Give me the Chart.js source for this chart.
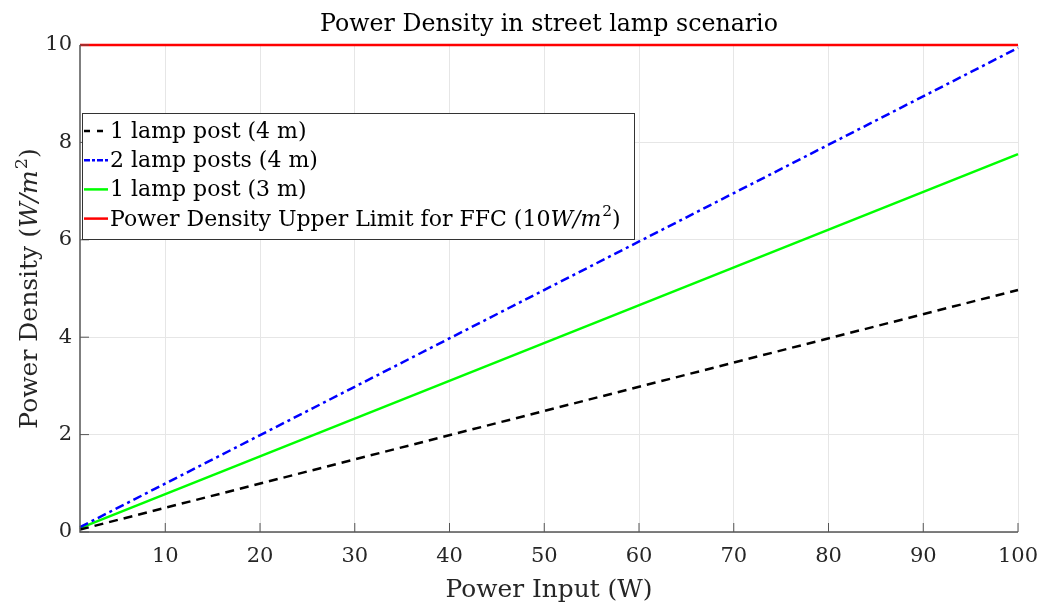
<!DOCTYPE html>
<html>
<head>
<meta charset="utf-8">
<script src="https://cdn.jsdelivr.net/npm/chart.js@4.4.1/dist/chart.umd.min.js"></script>
<style>
  html, body { margin: 0; padding: 0; background: #fff; }
  #wrap { width: 1041px; height: 605px; }
</style>
</head>
<body>
<div id="wrap"><canvas id="myChart" width="1041" height="605"></canvas></div>
<script>
// ---------- DATA ----------
const xValues     = [1, 100];
const onePost4m   = [0.05, 4.97];
const twoPosts4m  = [0.1, 9.94];
const onePost3m   = [0.078, 7.76];
const upperLimit  = [10, 10];
const xTicks      = [10, 20, 30, 40, 50, 60, 70, 80, 90, 100];
const yTicks      = [0, 2, 4, 6, 8, 10];

const FONT = "'DejaVu Serif', 'Liberation Serif', serif";
const INK  = '#262626';

const pts = arr => xValues.map((x, i) => ({ x, y: arr[i] }));

// texto "rico": [{t, i (itálico), sup}]
function richWidth(ctx, parts, size) {
  let w = 0;
  parts.forEach(p => {
    const s = p.sup ? size * 0.7 : size;
    ctx.font = `${p.i ? 'italic ' : ''}${s}px ${FONT}`;
    w += ctx.measureText(p.t).width + (p.i ? 1 : 0);
  });
  return w;
}
// tamanho de fonte que dá a largura vista na figura
const fitSize = (ctx, parts, width, max) => Math.min(max, 20 * width / richWidth(ctx, parts, 20));

function drawRich(ctx, parts, x, y, size, align) {
  const w = richWidth(ctx, parts, size);
  let cx = align === 'center' ? x - w / 2 : x;
  ctx.textBaseline = 'alphabetic';
  ctx.textAlign = 'left';
  parts.forEach(p => {
    const s = p.sup ? size * 0.7 : size;
    ctx.font = `${p.i ? 'italic ' : ''}${s}px ${FONT}`;
    ctx.fillText(p.t, cx, p.sup ? y - size * 0.42 : y);
    cx += ctx.measureText(p.t).width + (p.i ? 1 : 0);
  });
}

const titleParts  = [{ t: 'Power Density in street lamp scenario' }];
const xLabelParts = [{ t: 'Power Input (W)' }];
const yLabelParts = [{ t: 'Power Density (' }, { t: 'W/m', i: true }, { t: '2', sup: true }, { t: ')' }];

const datasets = [
  { label: '1 lamp post (4 m)', data: pts(onePost4m), borderColor: '#000000', borderDash: [9, 6], legendParts: [{ t: '1 lamp post (4 m)' }] },
  { label: '2 lamp posts (4 m)', data: pts(twoPosts4m), borderColor: '#0000ff', borderDash: [9, 4, 3, 4], legendParts: [{ t: '2 lamp posts (4 m)' }] },
  { label: '1 lamp post (3 m)', data: pts(onePost3m), borderColor: '#00ff00', borderDash: [], legendParts: [{ t: '1 lamp post (3 m)' }] },
  { label: 'Power Density Upper Limit for FFC (10W/m2)', data: pts(upperLimit), borderColor: '#ff0000', borderDash: [],
    legendParts: [{ t: 'Power Density Upper Limit for FFC (10' }, { t: 'W/m', i: true }, { t: '2', sup: true }, { t: ')' }] }
].map(d => Object.assign(d, { borderWidth: 2.5, pointRadius: 0, fill: false, tension: 0, clip: 4 }));

// ---------- Plugin: eixos, ticks internos, títulos, legenda ----------
const decor = {
  id: 'decor',
  afterDatasetsDraw(chart) {
    const { ctx, chartArea: a, scales } = chart;
    ctx.save();
    // eixos
    ctx.strokeStyle = '#555555';
    ctx.lineWidth = 1.5;
    ctx.beginPath();
    ctx.moveTo(a.left, a.top); ctx.lineTo(a.left, a.bottom); ctx.lineTo(a.right, a.bottom);
    ctx.stroke();
    // ticks internos
    ctx.lineWidth = 1;
    ctx.beginPath();
    xTicks.forEach(v => { const px = scales.x.getPixelForValue(v); ctx.moveTo(px, a.bottom); ctx.lineTo(px, a.bottom - 9); });
    yTicks.forEach(v => { const py = scales.y.getPixelForValue(v); ctx.moveTo(a.left, py); ctx.lineTo(a.left + 9, py); });
    ctx.stroke();

    // legenda
    const lx = 82, ly = 113, lw = 552, lh = 126;
    ctx.fillStyle = '#ffffff';
    ctx.fillRect(lx, ly, lw, lh);
    ctx.strokeStyle = '#333333';
    ctx.lineWidth = 1;
    ctx.strokeRect(lx + 0.5, ly + 0.5, lw, lh);
    const ds = chart.data.datasets;
    const legSize = fitSize(ctx, ds[3].legendParts, 519, 22);
    ds.forEach((d, i) => {
      const cy = 131 + i * 29.2;
      ctx.strokeStyle = d.borderColor;
      ctx.lineWidth = 2.5;
      ctx.setLineDash(i === 0 ? [6, 7] : i === 1 ? [6, 2, 3, 2] : []);
      ctx.beginPath(); ctx.moveTo(84, cy); ctx.lineTo(108, cy); ctx.stroke();
      ctx.setLineDash([]);
      ctx.fillStyle = '#000000';
      drawRich(ctx, d.legendParts, 110, cy + 7, legSize, 'left');
    });

    // títulos
    const cx = (a.left + a.right) / 2;
    ctx.fillStyle = '#000000';
    drawRich(ctx, titleParts, cx, 31, fitSize(ctx, titleParts, 458, 24), 'center');
    ctx.fillStyle = INK;
    drawRich(ctx, xLabelParts, cx, 597, fitSize(ctx, xLabelParts, 207, 25), 'center');
    ctx.translate(37, (a.top + a.bottom) / 2);
    ctx.rotate(-Math.PI / 2);
    drawRich(ctx, yLabelParts, 0, 0, fitSize(ctx, yLabelParts, 282, 25), 'center');
    ctx.restore();
  }
};

new Chart(document.getElementById('myChart').getContext('2d'), {
  type: 'line',
  data: { datasets },
  options: {
    responsive: false,
    animation: false,
    layout: { padding: { top: 45, right: 23, left: 0, bottom: 0 } },
    plugins: { legend: { display: false }, tooltip: { enabled: false }, title: { display: false } },
    scales: {
      x: {
        type: 'linear', min: 1, max: 100,
        afterBuildTicks: s => { s.ticks = xTicks.map(v => ({ value: v })); },
        afterFit: s => { s.height = 73; s.paddingRight = 0; s.paddingLeft = 0; },
        grid: { color: '#e6e6e6', lineWidth: 1, drawTicks: false },
        border: { display: false },
        ticks: { color: INK, padding: 12, font: { family: FONT, size: 21 } }
      },
      y: {
        type: 'linear', min: 0, max: 10,
        afterBuildTicks: s => { s.ticks = yTicks.map(v => ({ value: v })); },
        afterFit: s => { s.width = 80; s.paddingTop = 0; s.paddingBottom = 0; },
        grid: { color: '#e6e6e6', lineWidth: 1, drawTicks: false },
        border: { display: false },
        ticks: { color: INK, padding: 8, font: { family: FONT, size: 21 } }
      }
    }
  },
  plugins: [decor]
});
</script>
</body>
</html>
